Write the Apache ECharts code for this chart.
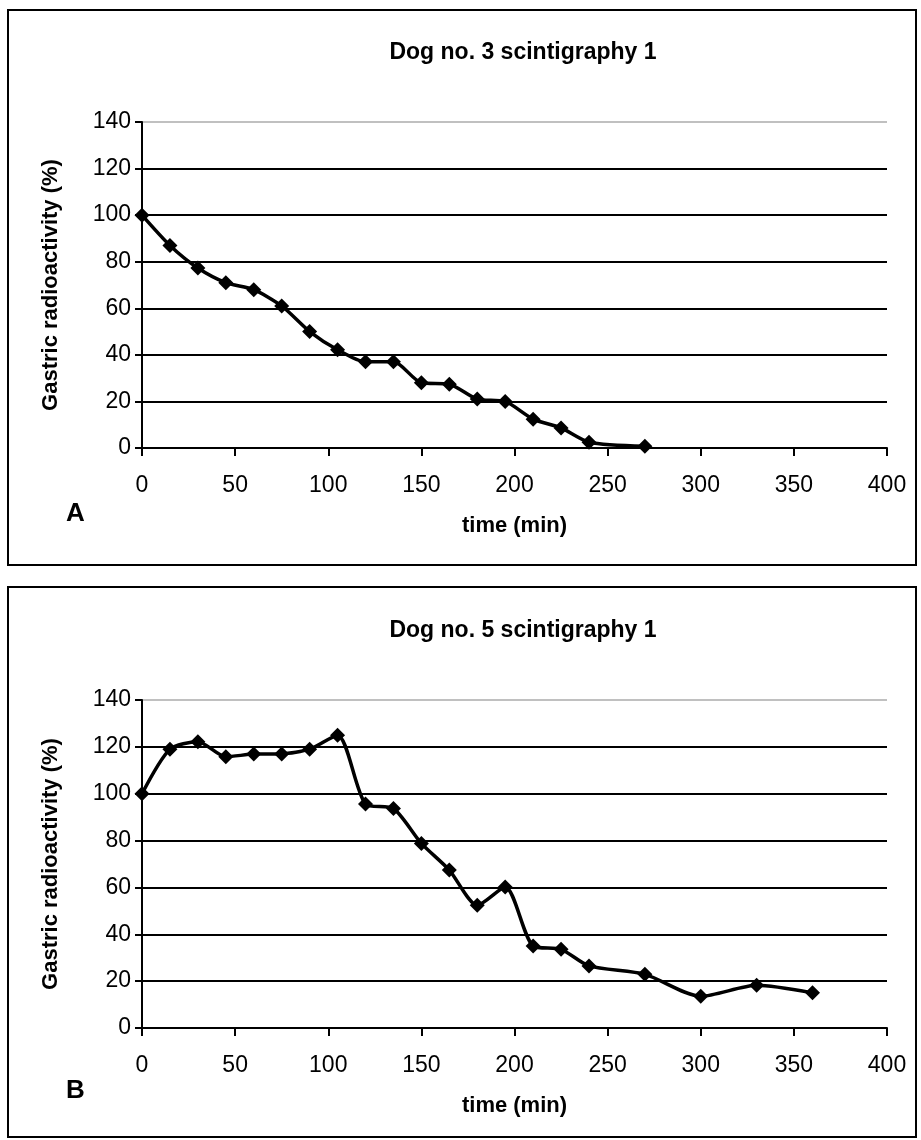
<!DOCTYPE html>
<html>
<head>
<meta charset="utf-8">
<script src="https://cdn.jsdelivr.net/npm/echarts@6/dist/echarts.min.js"></script>
<style>
  html, body { margin: 0; padding: 0; background: #fff; }
  #chart { width: 921px; height: 1140px; }
</style>
</head>
<body>
<div id="chart"></div>
<script>
// time points (min) and gastric radioactivity (%)
var timeA = [0, 15, 30, 45, 60, 75, 90, 105, 120, 135, 150, 165, 180, 195, 210, 225, 240, 270];
var valuesA = [100, 87, 77.3, 71, 68, 61, 50, 42.2, 37, 37, 28, 27.4, 21, 20, 12.4, 8.6, 2.5, 0.8];

var timeB = [0, 15, 30, 45, 60, 75, 90, 105, 120, 135, 150, 165, 180, 195, 210, 225, 240, 270, 300, 330, 360];
var valuesB = [100, 119, 122.2, 115.8, 116.9, 117, 119, 125, 95.6, 93.7, 78.8, 67.4, 52.4, 60.2, 35, 33.6, 26.5, 22.9, 13.5, 18.2, 15];

var titles = ["Dog no. 3 scintigraphy 1", "Dog no. 5 scintigraphy 1"];
var panelLetters = ["A", "B"];
var xName = "time (min)";
var yName = "Gastric radioactivity (%)";

var font = "Liberation Sans, Arial, sans-serif";

function pairs(xs, ys) {
    return xs.map(function(x, i) { return [x, ys[i]]; });
}

function xAxisFor(i) {
    return {
        type: "value", gridIndex: i, min: 0, max: 400, interval: 50,
        name: xName, nameLocation: "middle", nameGap: 67,
        nameTextStyle: { fontFamily: font, fontWeight: "bold", fontSize: 22, color: "#000" },
        axisLine: { lineStyle: { color: "#000", width: 2 } },
        axisTick: { inside: false, length: 8, lineStyle: { color: "#000", width: 2 } },
        axisLabel: { margin: 26, fontFamily: font, fontSize: 23, color: "#000" },
        splitLine: { show: false }
    };
}

function yAxisFor(i) {
    return {
        type: "value", gridIndex: i, min: 0, max: 140, interval: 20,
        name: yName, nameLocation: "middle", nameGap: 80, nameRotate: 90,
        nameTextStyle: { fontFamily: font, fontWeight: "bold", fontSize: 22, color: "#000" },
        axisLine: { show: true, lineStyle: { color: "#000", width: 2 } },
        axisTick: { show: true, length: 7, lineStyle: { color: "#000", width: 2 } },
        axisLabel: { margin: 11, fontFamily: font, fontSize: 23, color: "#000" },
        splitLine: {
            show: true,
            lineStyle: { color: ["#000", "#000", "#000", "#000", "#000", "#000", "#000", "#c0c0c0"], width: 2 }
        }
    };
}

function seriesFor(i, data) {
    return {
        type: "line", xAxisIndex: i, yAxisIndex: i,
        data: data, smooth: 0.25,
        symbol: "diamond", symbolSize: 15,
        itemStyle: { color: "#000" },
        lineStyle: { color: "#000", width: 3.5 }
    };
}

var chart = echarts.init(document.getElementById("chart"), null, { renderer: "canvas" });

var option = {
    backgroundColor: "#fff",
    animation: false,
    title: [
        { text: titles[0], left: 518, top: 36, textAlign: "center",
          textStyle: { fontFamily: font, fontWeight: "bold", fontSize: 23, color: "#000" } },
        { text: titles[1], left: 518, top: 614, textAlign: "center",
          textStyle: { fontFamily: font, fontWeight: "bold", fontSize: 23, color: "#000" } }
    ],
    grid: [
        { left: 142, top: 122, width: 745, height: 326 },
        { left: 142, top: 700, width: 745, height: 328 }
    ],
    xAxis: [xAxisFor(0), xAxisFor(1)],
    yAxis: [yAxisFor(0), yAxisFor(1)],
    series: [seriesFor(0, pairs(timeA, valuesA)), seriesFor(1, pairs(timeB, valuesB))],
    graphic: [
        { type: "rect", shape: { x: 8, y: 10, width: 908, height: 555 },
          style: { fill: "none", stroke: "#000", lineWidth: 2 } },
        { type: "rect", shape: { x: 8, y: 587, width: 908, height: 550 },
          style: { fill: "none", stroke: "#000", lineWidth: 2 } },
        { type: "text", left: 66, top: 501,
          style: { text: panelLetters[0], font: "bold 26px " + font, fill: "#000" } },
        { type: "text", left: 66, top: 1078,
          style: { text: panelLetters[1], font: "bold 26px " + font, fill: "#000" } }
    ]
};

chart.setOption(option);
</script>
</body>
</html>
